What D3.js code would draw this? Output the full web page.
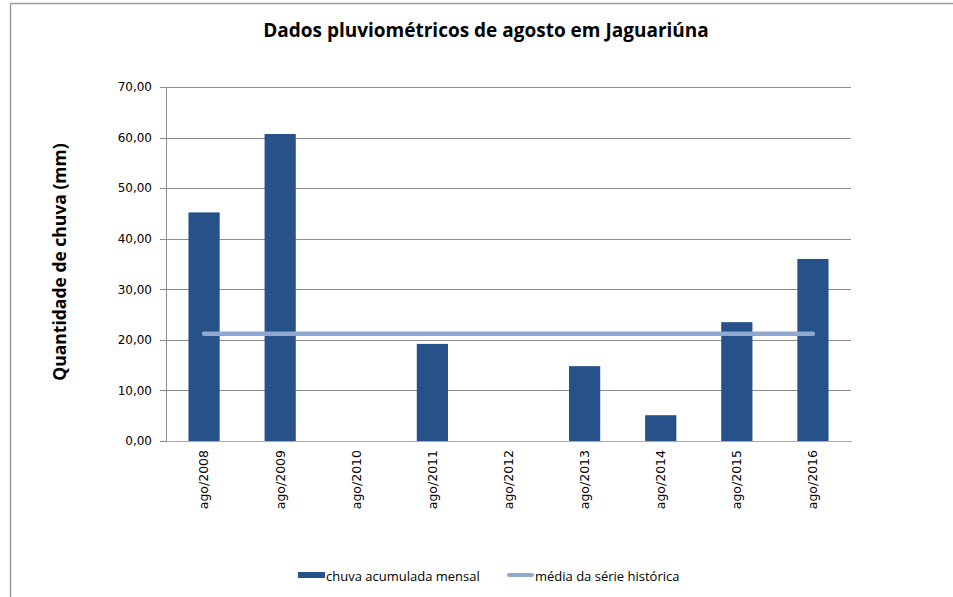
<!DOCTYPE html>
<html>
<head>
<meta charset="utf-8">
<title>Dados pluviométricos de agosto em Jaguariúna</title>
<style>
body { margin: 0; background: #fff; }
svg text { fill: #000; }
.grid line { stroke: #8c8c8c; shape-rendering: crispEdges; }
.grid path { display: none; }
.y.axis path, .y.axis line { stroke: #8c8c8c; shape-rendering: crispEdges; }
.x.axis path { stroke: #aaa; shape-rendering: crispEdges; }
.x.axis line { display: none; }
.axis text { font-family: "DejaVu Sans", Verdana, sans-serif; font-size: 12px; }
.x.axis text { font-size: 12.5px; }
</style>
<script src="https://cdnjs.cloudflare.com/ajax/libs/d3/7.8.5/d3.min.js"></script>
</head>
<body>
<script>
// data
var months = ["ago/2008", "ago/2009", "ago/2010", "ago/2011", "ago/2012",
              "ago/2013", "ago/2014", "ago/2015", "ago/2016"];
var rain = [45.2, 60.7, 0, 19.2, 0, 14.8, 5.1, 23.5, 36.0];
var mean = [21.2, 21.2, 21.2, 21.2, 21.2, 21.2, 21.2, 21.2, 21.2];
var yTicks = [0, 10, 20, 30, 40, 50, 60, 70];

var W = 953, H = 597;
var margin = {top: 87, right: 102, bottom: 156, left: 166},
    width = W - margin.left - margin.right,
    height = H - margin.top - margin.bottom;

var svg = d3.select("body").append("svg")
    .attr("width", W)
    .attr("height", H);

// frame (top and left edges visible)
svg.append("line").attr("x1", 10.5).attr("x2", W).attr("y1", 3.5).attr("y2", 3.5)
    .attr("stroke", "#9a9a9a").attr("stroke-width", 1.5);
svg.append("line").attr("x1", 10.5).attr("x2", 10.5).attr("y1", 3.5).attr("y2", H)
    .attr("stroke", "#9a9a9a").attr("stroke-width", 1.5);

svg.append("text")
    .attr("x", 486).attr("y", 37)
    .attr("text-anchor", "middle")
    .style("font-family", "'Open Sans', sans-serif")
    .style("font-weight", "bold")
    .style("font-size", "19px")
    .text("Dados pluviométricos de agosto em Jaguariúna");

var g = svg.append("g")
    .attr("transform", "translate(" + margin.left + "," + margin.top + ")");

var x = d3.scaleBand().domain(months).range([0, width]).paddingInner(0.59).paddingOuter(0.295);
var y = d3.scaleLinear().domain([0, 70]).range([height, 0]);
var fmt = function(d) { return d3.format(".2f")(d).replace(".", ","); };

g.append("g")
    .attr("class", "grid")
    .call(d3.axisLeft(y).tickValues(yTicks.slice(1)).tickSize(-width).tickFormat(""));

g.append("g")
    .attr("class", "y axis")
    .call(d3.axisLeft(y).tickValues(yTicks).tickSize(6).tickPadding(8).tickFormat(fmt));

g.selectAll(".bar")
    .data(rain)
  .enter().append("rect")
    .attr("class", "bar")
    .attr("x", function(d, i) { return x(months[i]); })
    .attr("width", x.bandwidth())
    .attr("y", function(d) { return y(d); })
    .attr("height", function(d) { return height - y(d); })
    .attr("fill", "#265189");

var xa = g.append("g")
    .attr("class", "x axis")
    .attr("transform", "translate(0," + height + ")")
    .call(d3.axisBottom(x).tickSize(0).tickSizeOuter(0));
xa.selectAll("text")
    .attr("transform", "rotate(-90)")
    .attr("text-anchor", "end")
    .attr("x", -9)
    .attr("y", 0)
    .attr("dy", "0.35em");

var line = d3.line()
    .x(function(d, i) { return x(months[i]) + x.bandwidth() / 2; })
    .y(function(d) { return y(d); });

g.append("path")
    .datum(mean)
    .attr("d", line)
    .attr("fill", "none")
    .attr("stroke", "#8ea8cf")
    .attr("stroke-width", 4.5)
    .attr("stroke-linecap", "round");

svg.append("text")
    .attr("transform", "translate(66," + (margin.top + height / 2 - 2) + ") rotate(-90)")
    .attr("text-anchor", "middle")
    .style("font-family", "'Open Sans', sans-serif")
    .style("font-weight", "bold")
    .style("font-size", "17.5px")
    .text("Quantidade de chuva (mm)");

// legend
var leg = svg.append("g").attr("transform", "translate(298,577)");
leg.append("rect").attr("x", 0).attr("y", -5).attr("width", 27).attr("height", 6).attr("fill", "#265189");
leg.append("text").attr("x", 28).attr("y", 4)
    .style("font-family", "'Open Sans', sans-serif").style("font-size", "13px")
    .text("chuva acumulada mensal");
leg.append("line").attr("x1", 211).attr("x2", 234).attr("y1", -2).attr("y2", -2)
    .attr("stroke", "#8ea8cf").attr("stroke-width", 4).attr("stroke-linecap", "round");
leg.append("text").attr("x", 237).attr("y", 4)
    .style("font-family", "'Open Sans', sans-serif").style("font-size", "13px")
    .text("média da série histórica");
</script>
</body>
</html>
